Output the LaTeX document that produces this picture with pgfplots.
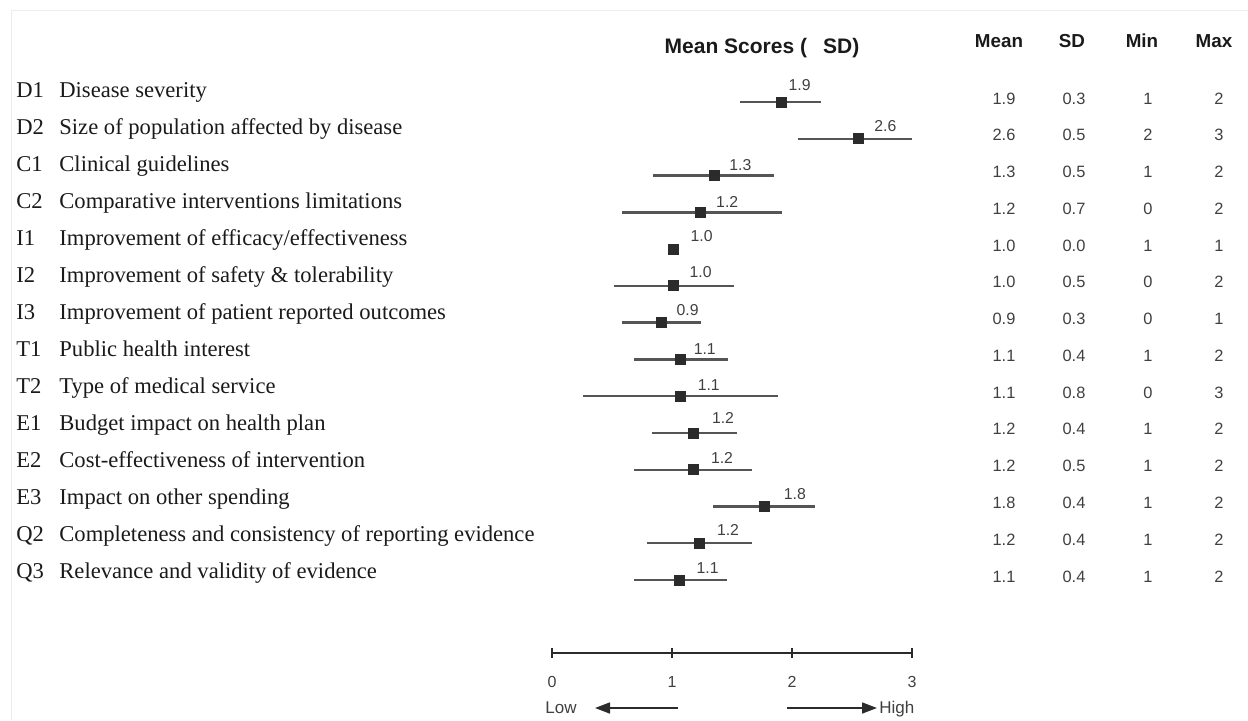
\documentclass[border=0pt]{standalone}
\usepackage{fontspec}
\setmainfont{Liberation Serif}
\setsansfont{Liberation Sans}
\usepackage{pgfplots}
\pgfplotsset{compat=1.18}
\usepackage{pgfplotstable}
\usetikzlibrary{arrows.meta}

\definecolor{txt}{HTML}{1A1A1A}
\definecolor{num}{HTML}{404040}
\definecolor{mk}{HTML}{2B2B2B}
\definecolor{bar}{HTML}{555555}

% r = row, m = mean marker, em/ep = left/right extent of the line
\pgfplotstableread{
r  m    em   ep   lab dx  dy
1  1.91 0.34 0.33 1.9 3.5 6
2  2.55 0.50 0.45 2.6 8   3.5
3  1.35 0.51 0.50 1.3 7.5 2.5
4  1.24 0.66 0.68 1.2 7.5 2.5
5  1.01 0.00 0.00 1.0 8.5 4
6  1.01 0.49 0.51 1.0 8   4
7  0.91 0.33 0.33 0.9 7.5 3.5
8  1.07 0.39 0.40 1.1 6.5 2.5
9  1.07 0.81 0.81 1.1 8.5 3
10 1.18 0.35 0.36 1.2 9   4.5
11 1.18 0.50 0.49 1.2 8.5 3
12 1.77 0.43 0.42 1.8 9.5 3.5
13 1.23 0.44 0.44 1.2 8.5 4
14 1.06 0.38 0.40 1.1 8.5 3.5
}\scores

\newcommand\numfont{\sffamily\fontsize{8.2}{10}\selectfont\color{num}}
\newcommand\lab[3]{%
  \node[anchor=base west, inner sep=0pt, text=txt, font=\fontsize{11.3}{13}\selectfont]
    at (16,{97+37*(#1-1)}) {#2};
  \node[anchor=base west, inner sep=0pt, text=txt, font=\fontsize{11.3}{13}\selectfont]
    at (59,{97+37*(#1-1)}) {#3};}

\begin{document}
\begin{tikzpicture}
\useasboundingbox (0,0) rectangle (624pt,360pt);

\begin{axis}[
  at={(0,0)}, anchor=south west,
  width=624pt, height=360pt, scale only axis,
  xmin=-4.6, xmax=5.8, ymin=-1.774, ymax=17.807,
  y dir=reverse, axis lines=none, clip=false]
  \addplot[only marks, mark=square*, mark size=2.5pt, color=mk,
    error bars/.cd, x dir=both, x explicit, error mark=none,
    error bar style={line width=1.2pt, color=bar}]
    table[x=m, y=r, x error plus=ep, x error minus=em] {\scores};
  \addplot[only marks, mark=none,
    visualization depends on={\thisrow{dx} \as \ndx},
    visualization depends on={\thisrow{dy} \as \ndy},
    point meta=explicit symbolic, nodes near coords,
    nodes near coords style={anchor=base west, inner sep=0pt,
      xshift=\ndx pt, yshift=\ndy pt, text=num,
      font=\sffamily\fontsize{7.9}{9}\selectfont}]
    table[x=m, y=r, meta=lab] {\scores};
\end{axis}

% scale 0--3 under the plot
\begin{axis}[
  at={(276pt,33.5pt)}, anchor=south west,
  width=180pt, height=6pt, scale only axis,
  xmin=0, xmax=3, ymin=0, ymax=1,
  axis y line=none, axis x line=bottom,
  x axis line style={-, line width=0.75pt, color=mk},
  xtick={0,1,2,3}, tick align=center, major tick length=5pt,
  tick style={line width=0.75pt, color=mk},
  /pgf/number format/assume math mode=true,
  xticklabel style={font=\sffamily\fontsize{8}{9}\selectfont, text=num, yshift=-5.5pt}]
  \addplot[draw=none] coordinates {(0,0) (3,0)};
\end{axis}

\begin{scope}[x=0.5pt, y=-0.5pt, shift={(0pt,360pt)}]
  \draw[gray!15, line width=0.5pt] (11,720) -- (11,10) -- (1248,10);

  \node[anchor=base, text=txt, font=\sffamily\bfseries\fontsize{10.5}{12}\selectfont]
    at (762,53) {Mean Scores (\hspace{8pt}SD)};
  \foreach \h/\cx in {Mean/999, SD/1072, Min/1142, Max/1214}
    \node[anchor=base, text=txt, font=\sffamily\bfseries\fontsize{9.4}{11}\selectfont]
      at (\cx,47) {\h};

  \lab{1}{D1}{Disease severity}
  \lab{2}{D2}{Size of population affected by disease}
  \lab{3}{C1}{Clinical guidelines}
  \lab{4}{C2}{Comparative interventions limitations}
  \lab{5}{I1}{Improvement of efficacy/effectiveness}
  \lab{6}{I2}{Improvement of safety \& tolerability}
  \lab{7}{I3}{Improvement of patient reported outcomes}
  \lab{8}{T1}{Public health interest}
  \lab{9}{T2}{Type of medical service}
  \lab{10}{E1}{Budget impact on health plan}
  \lab{11}{E2}{Cost-effectiveness of intervention}
  \lab{12}{E3}{Impact on other spending}
  \lab{13}{Q2}{Completeness and consistency of reporting evidence}
  \lab{14}{Q3}{Relevance and validity of evidence}

  \foreach \a/\b/\c/\d [count=\i] in {
      1.9/0.3/1/2, 2.6/0.5/2/3, 1.3/0.5/1/2, 1.2/0.7/0/2, 1.0/0.0/1/1,
      1.0/0.5/0/2, 0.9/0.3/0/1, 1.1/0.4/1/2, 1.1/0.8/0/3, 1.2/0.4/1/2,
      1.2/0.5/1/2, 1.8/0.4/1/2, 1.2/0.4/1/2, 1.1/0.4/1/2} {
    \node[anchor=base, inner sep=0pt, font=\numfont] at (1004,{104+36.77*(\i-1)}) {\a};
    \node[anchor=base, inner sep=0pt, font=\numfont] at (1074,{104+36.77*(\i-1)}) {\b};
    \node[anchor=base, inner sep=0pt, font=\numfont] at (1148,{104+36.77*(\i-1)}) {\c};
    \node[anchor=base, inner sep=0pt, font=\numfont] at (1219,{104+36.77*(\i-1)}) {\d};
  }

  \draw[-{Triangle[length=7.5pt,width=5.5pt]}, line width=0.8pt, mk] (678,708) -- (595,708);
  \draw[-{Triangle[length=7.5pt,width=5.5pt]}, line width=0.8pt, mk] (787,708) -- (877,708);
  \node[anchor=base west, inner sep=0pt, text=num, font=\sffamily\fontsize{8.5}{10}\selectfont]
    at (545,713) {Low};
  \node[anchor=base west, inner sep=0pt, text=num, font=\sffamily\fontsize{8.5}{10}\selectfont]
    at (879,713) {High};
\end{scope}
\end{tikzpicture}
\end{document}
